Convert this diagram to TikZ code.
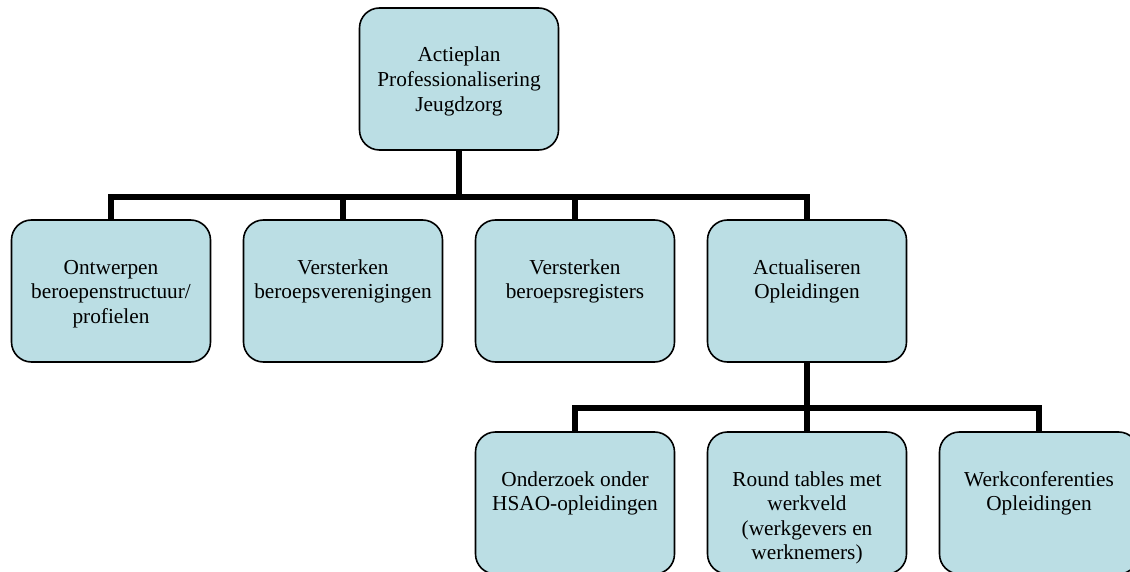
\documentclass[tikz,border=0pt]{standalone}
\usepackage{fontspec}
\setmainfont{Liberation Serif}
\usepackage{tikz}
\definecolor{boxblue}{RGB}{187,222,228}
\newcommand{\boxfont}{\fontsize{21.3pt}{24.6pt}\selectfont}
\newcommand{\boxtext}[1]{\parbox[c][142pt][t]{196pt}{\centering\rule{0pt}{54pt}#1}}
\tikzset{
  unit/.style={draw=black, line width=1.6pt, fill=boxblue, rounded corners=20pt,
    minimum width=199pt, minimum height=142pt, inner sep=0pt, font=\boxfont},
  link/.style={line width=6.5pt}
}

\begin{document}
\begin{tikzpicture}[x=1pt,y=-1pt]
  \useasboundingbox (0,0) rectangle (1130,572);
  \clip (0,0) rectangle (1130,572);
  \node[unit] (plan) at (459,79) {\boxtext{Actieplan\\Professionalisering\\Jeugdzorg}};
  \node[unit] (ontwerp) at (111,291) {\boxtext{Ontwerpen\\beroepenstructuur/\\profielen}};
  \node[unit] (vereniging) at (343,291) {\boxtext{Versterken\\beroepsverenigingen}};
  \node[unit] (register) at (575,291) {\boxtext{Versterken\\beroepsregisters}};
  \node[unit] (opleiding) at (807,291) {\boxtext{Actualiseren\\Opleidingen}};
  \node[unit] (onderzoek) at (575,503) {\boxtext{Onderzoek onder\\HSAO-opleidingen}};
  \node[unit] (roundtable) at (807,503) {\boxtext{Round tables met\\werkveld\\(werkgevers en\\werknemers)}};
  \node[unit] (conferentie) at (1039,503) {\boxtext{Werkconferenties\\Opleidingen}};
  \coordinate (bar1) at (459,197);
  \coordinate (bar2) at (807,408);
  \draw[link] (plan.south) -- (bar1);
  \draw[link] (ontwerp.north) |- (opleiding.north |- bar1) -- (opleiding.north);
  \draw[link] (vereniging.north) -- (vereniging.north |- bar1);
  \draw[link] (register.north) -- (register.north |- bar1);
  \draw[link] (opleiding.south) -- (bar2);
  \draw[link] (onderzoek.north) |- (conferentie.north |- bar2) -- (conferentie.north);
  \draw[link] (roundtable.north) -- (roundtable.north |- bar2);
\end{tikzpicture}
\end{document}
